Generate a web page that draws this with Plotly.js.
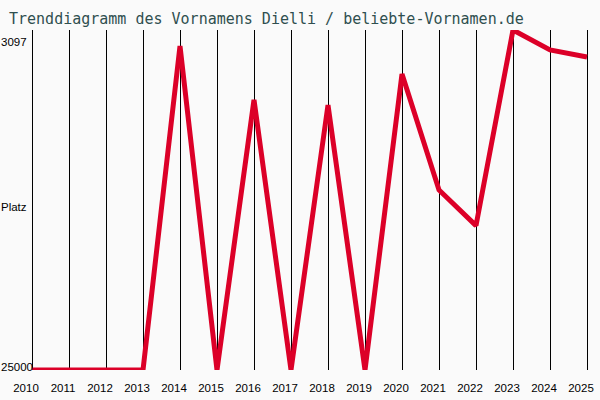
<!DOCTYPE html>
<html>
<head>
<meta charset="utf-8">
<script src="https://cdn.plot.ly/plotly-3.0.1.min.js"></script>
<style>
html,body{margin:0;padding:0;background:#fafafa;}
#chart{width:600px;height:400px;}
</style>
</head>
<body>
<div id="chart"></div>
<script>
const years = [2010,2011,2012,2013,2014,2015,2016,2017,2018,2019,2020,2021,2022,2023,2024,2025];
const ranks = [25000,25000,25000,25000,4130,25000,7600,25000,7930,25000,5930,13400,15700,3097,4380,4840];
const yTickValues = [3097, 25000];
const yTickLabels = ["3097", "25000"];
const yAxisLabel = "Platz";
const titleText = "Trenddiagramm des Vornamens Dielli / beliebte-Vornamen.de";

const trace = {
  x: years,
  y: ranks,
  type: 'scatter',
  mode: 'lines',
  line: {color: '#dc0028', width: 5},
  hoverinfo: 'skip'
};

const labelFont = {family:'Liberation Sans, Arial, sans-serif', size:11.5, color:'#000'};

const annotations = [
  {xref:'paper', yref:'y', x:0, y:yTickValues[0], xanchor:'left', yanchor:'middle', xshift:-31, yshift:-12,
   text:yTickLabels[0], showarrow:false, font:labelFont},
  {xref:'paper', yref:'y', x:0, y:yTickValues[1], xanchor:'left', yanchor:'middle', xshift:-31, yshift:3,
   text:yTickLabels[1], showarrow:false, font:labelFont},
  {xref:'paper', yref:'paper', x:0, y:0.5, xanchor:'left', yanchor:'middle', xshift:-31, yshift:-7,
   text:yAxisLabel, showarrow:false, font:labelFont}
];

const layout = {
  width: 600, height: 400,
  margin: {l:30, r:11, t:30, b:30, pad:0},
  paper_bgcolor: '#fafafa',
  plot_bgcolor: '#fafafa',
  showlegend: false,
  title: {
    text: titleText,
    font: {family:'DejaVu Sans Mono, monospace', size:15, color:'#2f4f4f'},
    xref:'container', yref:'container', x:0.015, xanchor:'left', y:0.952, yanchor:'middle'
  },
  xaxis: {
    range: [2009.946, 2025.054],
    tickvals: years,
    ticktext: years.map(String),
    showgrid: true, gridcolor:'#000', gridwidth:1,
    zeroline:false, showline:false, ticks:'',
    ticklabelshift: -6,
    ticklabelstandoff: 9,
    tickfont: labelFont,
    fixedrange:true
  },
  yaxis: {
    range: [25000, 3097],
    showgrid:false, zeroline:false, showline:false, showticklabels:false, ticks:'',
    fixedrange:true
  },
  annotations: annotations
};

Plotly.newPlot('chart', [trace], layout, {displayModeBar:false, staticPlot:true});
</script>
</body>
</html>
